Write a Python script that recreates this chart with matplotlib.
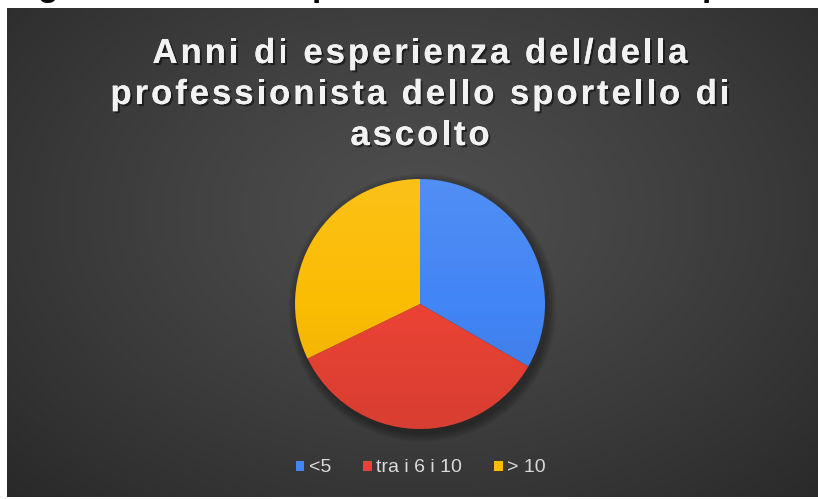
#!/usr/bin/env python3
"""Pie chart: anni di esperienza del/della professionista dello sportello di ascolto."""

import matplotlib

matplotlib.use("Agg")
import matplotlib.pyplot as plt
import matplotlib.patheffects as pe
import numpy as np
from matplotlib.font_manager import FontProperties, findfont, get_font
from matplotlib.patches import Circle

W, H = 818, 499

categories = ["<5", "tra i 6 i 10", "> 10"]
values = [29, 30, 28]
colors = ["#4285F4", "#EA4335", "#FBBC04"]
title_lines = ["Anni di esperienza del/della",
               "professionista dello sportello di",
               "ascolto"]

plt.rcParams["font.family"] = ["Liberation Sans", "DejaVu Sans"]

fig = plt.figure(figsize=(W / 100, H / 100), dpi=100)
fig.patch.set_facecolor("white")

# dark radial background (slide area)
x0, y0, x1, y1 = 7, 8, 818, 497
bg = fig.add_axes([x0 / W, 1 - y1 / H, (x1 - x0) / W, (y1 - y0) / H])
bg.set_axis_off()
gx, gy = np.meshgrid(np.linspace(0, 1, 400), np.linspace(0, 1, 250))
d = np.sqrt(((gx - 0.51) / 0.78) ** 2 + ((gy - 0.42) / 0.9) ** 2)
d = np.clip(d, 0, 1)
shade = (0x4e - (0x4e - 0x25) * d ** 1.2) / 255.0
bg.imshow(np.dstack([shade] * 3), aspect="auto", extent=[0, 1, 1, 0])
bg.set_xlim(0, 1)
bg.set_ylim(1, 0)

# cut off text of the page above (only descenders visible)
for ch, px in [("g", 38), ("p", 312), ("p", 702)]:
    fig.text(px / W, 1 + 4 / H, ch, fontsize=24, fontweight="bold",
             color="black", va="baseline", ha="left", zorder=0)

# title, drawn letter by letter to get the wide tracking
fsize = 25
fp = FontProperties(family="Liberation Sans", weight="bold", size=fsize)
font = get_font(findfont(fp))
font.set_size(fsize, 100)


def advance(ch):
    return font.load_char(ord(ch)).linearHoriAdvance / 65536


shadow = [pe.withSimplePatchShadow(offset=(1.5, -1.5), shadow_rgbFace="black",
                                   alpha=0.5),
          pe.Normal()]
first = title_lines[0]
track = (535 - sum(advance(c) for c in first)) / (len(first) - 1)
for line, base in zip(title_lines, [63, 104, 145]):
    widths = [advance(c) for c in line]
    total = sum(widths) + track * (len(line) - 1)
    xpos = 420 - total / 2
    for ch, w in zip(line, widths):
        if ch != " ":
            fig.text(xpos / W, 1 - base / H, ch, fontproperties=fp,
                     color="#f2f2f2", ha="left", va="baseline",
                     path_effects=shadow)
        xpos += w + track

# pie
cx, cy, r = 420, 304, 125
ax = fig.add_axes([(cx - r) / W, 1 - (cy + r) / H, 2 * r / W, 2 * r / H])
ax.set_axis_off()
for k in range(6):
    ax.add_patch(Circle((0.02, -0.03), 1.0 + 0.012 * (k + 1), color="black",
                        alpha=0.06, lw=0, zorder=0, clip_on=False))
wedges, _ = ax.pie(values, colors=colors, startangle=90, counterclock=False,
                   radius=1.0, wedgeprops=dict(linewidth=0))
for w in wedges:
    w.set_zorder(2)
# light top / dark bottom sheen on the pie
grad = np.linspace(1, 0, 200).reshape(-1, 1)
sheen = np.zeros((200, 1, 4))
sheen[..., :3] = np.where(grad[..., None] > 0.5, 1.0, 0.0)
sheen[..., 3] = np.abs(grad - 0.5) * 0.16
im = ax.imshow(sheen, extent=[-1, 1, -1, 1], aspect="auto", zorder=3)
clip = Circle((0, 0), 1.0, transform=ax.transData)
im.set_clip_path(clip)
ax.set_xlim(-1, 1)
ax.set_ylim(-1, 1)

# legend
leg = fig.legend(wedges, categories, loc="center", ncol=3,
                 bbox_to_anchor=(421 / W, 1 - 468 / H), frameon=False,
                 fontsize=14, handlelength=0.42, handleheight=0.42,
                 handletextpad=0.25, columnspacing=1.65)
for t in leg.get_texts():
    t.set_color("#d9d9d9")

fig.savefig("out.png", dpi=100, facecolor=fig.get_facecolor())
